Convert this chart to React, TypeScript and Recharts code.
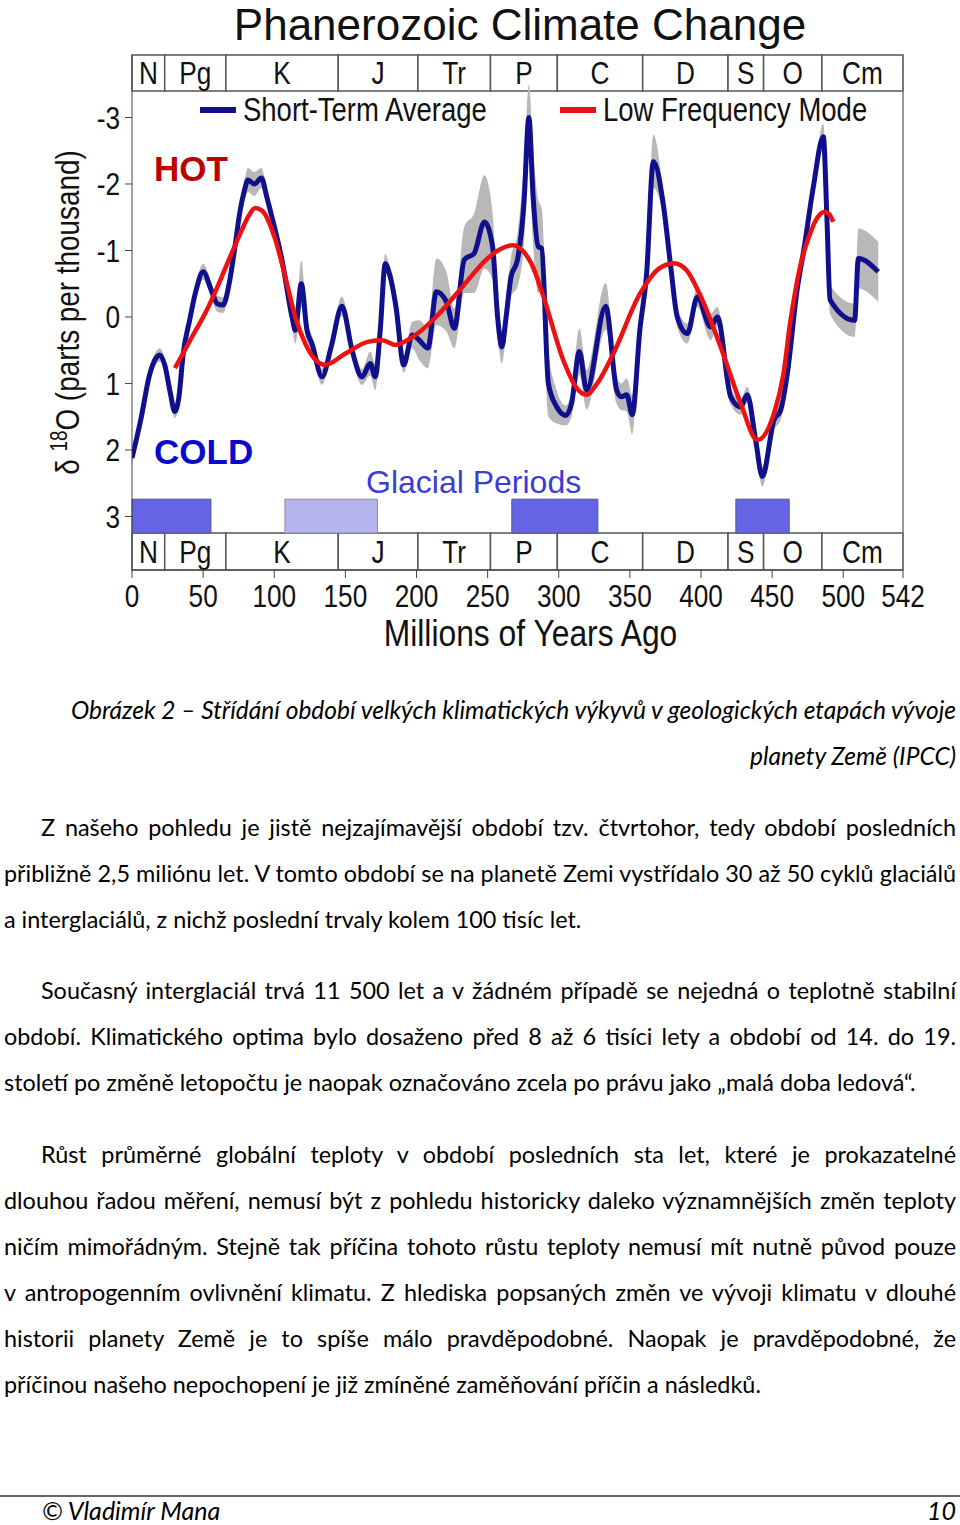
import { ComposedChart, Line, Area, XAxis, YAxis, ReferenceArea, ReferenceLine, Legend } from "recharts";

const SANS = "'Liberation Sans', Arial, sans-serif";
const BODY = "Lato, 'Open Sans', sans-serif";
// no narrow face installed, so Liberation Sans is squeezed to Arial Narrow proportions
const SQUEEZE = 0.82;

// short-term average (blue) with half-width of the grey envelope
const stAge = [
  0, 3, 6.6, 12, 16, 19.5, 23, 27, 30, 33, 36, 40.5, 45, 50, 55.8, 60, 64, 68.7, 72, 76,
  79, 81.5, 86, 91, 94.7, 98.4, 105.4, 112.5, 114.8, 119, 123, 126.5, 133.6, 140, 147.6, 154.7, 161.7, 167.5, 171, 174.5,
  178, 181, 185.6, 191, 197, 202, 208, 214, 221, 226.6, 233.6, 240.6, 247.7, 253.5, 257, 260, 263, 266.4, 271, 275.5,
  279, 282, 285.6, 288, 292.7, 298.5, 305, 309, 314.5, 319.6, 333, 340.7, 344, 347.8, 351.7, 357, 361.8, 366.5, 373.4, 378.7,
  383.3, 390.4, 397.4, 406.8, 411.5, 420.9, 427.9, 432.5, 438.4, 443.1, 451.3, 456, 460.7, 467.5, 472.2, 479, 486, 488.5, 490.7, 508,
  510.6, 524.6,
];
const stValue = [
  2.12, 1.85, 1.5, 0.9, 0.65, 0.57, 0.72, 1.15, 1.42, 1.2, 0.55, 0.05, -0.4, -0.68, -0.4, -0.2, -0.18, -0.55, -1.0, -1.6,
  -1.9, -2.06, -2.0, -2.09, -1.81, -1.5, -0.86, 0.0, 0.2, -0.5, 0.2, 0.4, 0.9, 0.45, -0.16, 0.5, 0.9, 0.7, 0.9, 0.2,
  -0.8, -0.65, -0.15, 0.72, 0.27, 0.35, 0.47, -0.38, -0.23, 0.17, -0.86, -0.96, -1.43, -1.06, 0.0, 0.45, 0.0, -0.6, -0.86, -1.7,
  -3.0, -1.8, -1.06, -1.03, 1.0, 1.35, 1.48, 1.3, 0.52, 1.1, -0.16, 1.1, 1.2, 1.17, 1.47, 0.2, -0.66, -2.34, -1.71, -0.76,
  0.0, 0.25, -0.3, 0.15, 0.0, 1.2, 1.35, 1.17, 1.85, 2.4, 1.55, 1.4, 0.85, -0.4, -1.0, -1.96, -2.71, -1.5, -0.26, 0.05,
  -0.88, -0.68,
];
const stSpread = [
  0.1, 0.1, 0.1, 0.1, 0.1, 0.1, 0.1, 0.1, 0.1, 0.1, 0.1, 0.1, 0.12, 0.12, 0.12, 0.12, 0.12, 0.12, 0.12, 0.12,
  0.15, 0.18, 0.18, 0.15, 0.12, 0.12, 0.12, 0.15, 0.2, 0.35, 0.15, 0.12, 0.12, 0.12, 0.15, 0.12, 0.12, 0.18, 0.2, 0.15,
  0.15, 0.12, 0.12, 0.12, 0.2, 0.3, 0.3, 0.5, 0.45, 0.3, 0.5, 0.6, 0.7, 0.5, 0.3, 0.25, 0.3, 0.3, 0.4, 0.6,
  0.5, 0.7, 0.7, 0.6, 0.5, 0.25, 0.15, 0.2, 0.35, 0.3, 0.35, 0.2, 0.2, 0.25, 0.3, 0.2, 0.2, 0.4, 0.2, 0.15,
  0.15, 0.15, 0.15, 0.2, 0.15, 0.12, 0.12, 0.12, 0.12, 0.15, 0.15, 0.15, 0.12, 0.12, 0.12, 0.12, 0.2, 0.2, 0.22, 0.25,
  0.45, 0.45,
];

// low frequency mode (red)
const lfAge = [
  30.2, 41.7, 52.5, 60, 66.5, 76, 82, 86.5, 91.4, 100.8, 107.8, 114.8, 121.8, 128, 135.9, 150, 166.4, 176, 185, 197.3,
  213.7, 232.5, 248.9, 258.7, 267.6, 280.8, 289.2, 303.2, 312, 319.6, 327, 338.4, 357.1, 370, 381, 390, 400, 413.8, 427.9, 439.6,
  451.3, 458, 462.6, 469.6, 476.6, 482, 486.5, 490, 493,
];
const lfValue = [
  0.77, 0.32, -0.1, -0.45, -0.78, -1.25, -1.52, -1.64, -1.6, -1.16, -0.6, 0.0, 0.4, 0.62, 0.72, 0.55, 0.37, 0.35, 0.42, 0.3,
  0.0, -0.46, -0.86, -1.02, -1.08, -0.8, -0.31, 0.65, 1.05, 1.17, 1.0, 0.55, -0.35, -0.72, -0.81, -0.7, -0.3, 0.45, 1.3, 1.85,
  1.45, 0.85, 0.1, -0.75, -1.25, -1.5, -1.58, -1.55, -1.43,
];

const periodNames = ["N", "Pg", "K", "J", "Tr", "P", "C", "D", "S", "O", "Cm"];
const periodStart = [0, 23, 66, 145, 201, 252, 299, 359, 419, 444, 485];
const periodEnd = [23, 66, 145, 201, 252, 299, 359, 419, 444, 485, 542];

const glacialStart = [0, 107.5, 267, 424.5];
const glacialEnd = [55.5, 172.5, 327.5, 462];
const glacialPartial = [false, true, false, false];

const xTicks = [0, 50, 100, 150, 200, 250, 300, 350, 400, 450, 500, 542];
const yTicks = [-3, -2, -1, 0, 1, 2, 3];

const legendOrder = ["Short-Term Average", "Low Frequency Mode"];

const shortTerm = stAge.map((age, i) => ({
  age,
  value: stValue[i],
  band: [stValue[i] - stSpread[i], stValue[i] + stSpread[i]],
}));
const lowFreq = lfAge.map((age, i) => ({ age, mode: lfValue[i] }));

const captionLines = [
  "Obrázek 2 – Střídání období velkých klimatických výkyvů v geologických etapách vývoje",
  "planety Země (IPCC)",
];
const paragraphs = [
  [
    "Z našeho pohledu je jistě nejzajímavější období tzv. čtvrtohor, tedy období posledních",
    "přibližně 2,5 miliónu let. V tomto období se na planetě Zemi vystřídalo 30 až 50 cyklů glaciálů",
    "a interglaciálů, z nichž poslední trvaly kolem 100 tisíc let.",
  ],
  [
    "Současný interglaciál trvá 11 500 let a v žádném případě se nejedná o teplotně stabilní",
    "období. Klimatického optima bylo dosaženo před 8 až 6 tisíci lety a období od 14. do 19.",
    "století po změně letopočtu je naopak označováno zcela po právu jako „malá doba ledová“.",
  ],
  [
    "Růst průměrné globální teploty v období posledních sta let, které je prokazatelné",
    "dlouhou řadou měření, nemusí být z pohledu historicky daleko významnějších změn teploty",
    "ničím mimořádným. Stejně tak příčina tohoto růstu teploty nemusí mít nutně původ pouze",
    "v antropogenním ovlivnění klimatu. Z hlediska popsaných změn ve vývoji klimatu v dlouhé",
    "historii planety Země je to spíše málo pravděpodobné. Naopak je pravděpodobné, že",
    "příčinou našeho nepochopení je již zmíněné zaměňování příčin a následků.",
  ],
];
const paragraphTops = [804, 967, 1131];

function XTick(props: any) {
  const { x, y, payload } = props;
  return (
    <g transform={`translate(${x},${y}) scale(0.845,1)`}>
      <text x={0} y={0} dy="0.71em" textAnchor="middle" fontFamily={SANS} fontSize={31} fill="#111">
        {payload.value}
      </text>
    </g>
  );
}

function YTick(props: any) {
  const { x, y, payload } = props;
  return (
    <g transform={`translate(${x},${y}) scale(${SQUEEZE},1)`}>
      <text x={0} y={0} dy="0.355em" textAnchor="end" fontFamily={SANS} fontSize={32} fill="#111">
        {payload.value}
      </text>
    </g>
  );
}

function StripLabel(props: any) {
  const vb = props.viewBox;
  const cx = vb.x + vb.width / 2;
  const cy = vb.y + vb.height / 2;
  return (
    <g transform={`translate(${cx},${cy}) scale(${SQUEEZE},1)`}>
      <text x={0} y={0} dy="0.36em" textAnchor="middle" fontFamily={SANS} fontSize={32} fill="#111">
        {props.name}
      </text>
    </g>
  );
}

function YLabel(props: any) {
  const vb = props.viewBox;
  const x = vb.x + 27;
  const y = vb.y + vb.height / 2;
  return (
    <g transform={`translate(${x},${y}) rotate(-90) scale(${SQUEEZE},1)`}>
      <text x={0} y={0} textAnchor="middle" fontFamily={SANS} fontSize={34} fill="#111">
        <tspan>δ </tspan>
        <tspan dy={-12} fontSize={23}>18</tspan>
        <tspan dy={12}>O (parts per thousand)</tspan>
      </text>
    </g>
  );
}

function XLabel(props: any) {
  const vb = props.viewBox;
  const x = vb.x + vb.width / 2 + 13;
  const y = vb.y + 76;
  return (
    <g transform={`translate(${x},${y}) scale(0.86,1)`}>
      <text x={0} y={0} textAnchor="middle" fontFamily={SANS} fontSize={37} fill="#111">
        Millions of Years Ago
      </text>
    </g>
  );
}

const legendLeft = [200, 560];

function renderLegend(props: any) {
  const items = (props.payload || []).filter((p: any) => legendOrder.includes(p.value));
  items.sort((a: any, b: any) => legendOrder.indexOf(a.value) - legendOrder.indexOf(b.value));
  return (
    <div style={{ position: "relative", width: 960, height: 36 }}>
      {items.map((p: any, i: number) => (
        <div key={p.value} style={{ position: "absolute", left: legendLeft[i], top: 0, display: "flex", alignItems: "center", height: 36, whiteSpace: "nowrap" }}>
          <span style={{ display: "inline-block", width: 36, height: 6, background: p.color, marginRight: 7 }} />
          <span style={{ display: "inline-block", fontFamily: SANS, fontSize: 33.5, color: "#111", lineHeight: "36px", transform: `scaleX(${SQUEEZE})`, transformOrigin: "left center" }}>
            {p.value}
          </span>
        </div>
      ))}
    </div>
  );
}

function ClimateChart() {
  return (
    <div style={{ position: "absolute", left: 0, top: 0, width: 960, height: 660 }}>
      <ComposedChart width={960} height={660} margin={{ top: 55, right: 57, bottom: 0, left: 52 }}>
        <XAxis
          type="number"
          dataKey="age"
          domain={[0, 542]}
          ticks={xTicks}
          interval={0}
          allowDataOverflow
          height={90}
          tickSize={8}
          tickMargin={7}
          stroke="#444"
          tick={XTick}
          label={XLabel}
        />
        <YAxis
          type="number"
          domain={[-3.94, 3.805]}
          reversed
          allowDataOverflow
          ticks={yTicks}
          width={80}
          tickSize={7}
          tickMargin={5}
          stroke="#444"
          tick={YTick}
          label={YLabel}
        />
        <ReferenceLine x={542} stroke="#777" strokeWidth={1.5} />
        {periodNames.map((name, i) => (
          <ReferenceArea
            key={"top-" + name}
            x1={periodStart[i]}
            x2={periodEnd[i]}
            y1={-3.94}
            y2={-3.4}
            fill="#fff"
            fillOpacity={1}
            stroke="#555"
            strokeWidth={1.5}
            label={(p: any) => <StripLabel {...p} name={name} />}
          />
        ))}
        {periodNames.map((name, i) => (
          <ReferenceArea
            key={"bottom-" + name}
            x1={periodStart[i]}
            x2={periodEnd[i]}
            y1={3.25}
            y2={3.805}
            fill="#fff"
            fillOpacity={1}
            stroke="#555"
            strokeWidth={1.5}
            label={(p: any) => <StripLabel {...p} name={name} />}
          />
        ))}
        {glacialStart.map((s, i) => (
          <ReferenceArea
            key={"glacial-" + i}
            x1={s}
            x2={glacialEnd[i]}
            y1={2.74}
            y2={3.25}
            fill={glacialPartial[i] ? "#b6b6ee" : "#6464e4"}
            fillOpacity={1}
            stroke={glacialPartial[i] ? "#8a8a9a" : "#55558a"}
            strokeWidth={1}
          />
        ))}
        <Area
          data={shortTerm}
          dataKey="band"
          type="monotone"
          stroke="none"
          fill="#b8b8b8"
          fillOpacity={1}
          legendType="none"
          isAnimationActive={false}
        />
        <Line
          data={shortTerm}
          dataKey="value"
          name="Short-Term Average"
          type="monotone"
          stroke="#10108c"
          strokeWidth={5}
          dot={false}
          isAnimationActive={false}
        />
        <Line
          data={lowFreq}
          dataKey="mode"
          name="Low Frequency Mode"
          type="monotone"
          stroke="#ee1111"
          strokeWidth={4.5}
          dot={false}
          isAnimationActive={false}
        />
        <Legend
          layout="horizontal"
          verticalAlign="middle"
          align="center"
          content={renderLegend}
          wrapperStyle={{ top: 92, left: 0, width: 960, height: 36 }}
        />
      </ComposedChart>
      <div style={{ position: "absolute", left: 180, width: 680, top: 3, textAlign: "center", fontFamily: SANS, fontSize: 44, lineHeight: "44px", color: "#111", whiteSpace: "nowrap" }}>
        Phanerozoic Climate Change
      </div>
      <div style={{ position: "absolute", left: 154, top: 151, fontFamily: SANS, fontWeight: 700, fontSize: 35, lineHeight: "35px", color: "#c00000" }}>
        HOT
      </div>
      <div style={{ position: "absolute", left: 154, top: 434, fontFamily: SANS, fontWeight: 700, fontSize: 35, lineHeight: "35px", color: "#0a0acc" }}>
        COLD
      </div>
      <div style={{ position: "absolute", left: 366, top: 466, fontFamily: SANS, fontSize: 32, lineHeight: "32px", color: "#3c3cd6" }}>
        Glacial Periods
      </div>
    </div>
  );
}

function PageText() {
  return (
    <>
      <div style={{ position: "absolute", left: 4, top: 687, width: 952, fontFamily: BODY, fontStyle: "italic", fontSize: 24.5, lineHeight: "46px", textAlign: "right", color: "#000" }}>
        {captionLines.map((l) => (
          <div key={l} style={{ whiteSpace: "nowrap" }}>{l}</div>
        ))}
      </div>
      {paragraphs.map((lines, pi) => (
        <div key={pi} style={{ position: "absolute", left: 4, top: paragraphTops[pi], width: 952, fontFamily: BODY, fontSize: 23.4, lineHeight: "46px", color: "#000" }}>
          {lines.map((l, li) => {
            const last = li === lines.length - 1;
            return (
              <div key={li} style={{ textAlign: last ? "left" : "justify", textAlignLast: last ? "left" : "justify", paddingLeft: li === 0 ? 37 : 0 }}>
                {l}
              </div>
            );
          })}
        </div>
      ))}
      <div style={{ position: "absolute", left: 0, top: 1495, width: 960, height: 2, background: "#666" }} />
      <div style={{ position: "absolute", left: 42, top: 1495, fontFamily: BODY, fontStyle: "italic", fontSize: 25, lineHeight: "30px", color: "#000" }}>
        © Vladimír Mana
      </div>
      <div style={{ position: "absolute", right: 4, top: 1495, fontFamily: BODY, fontStyle: "italic", fontSize: 25, lineHeight: "30px", color: "#000" }}>
        10
      </div>
    </>
  );
}

export default function App() {
  return (
    <div style={{ position: "relative", width: 960, height: 1525, background: "#fff", overflow: "hidden" }}>
      <style>{"body{margin:0}"}</style>
      <ClimateChart />
      <PageText />
    </div>
  );
}
